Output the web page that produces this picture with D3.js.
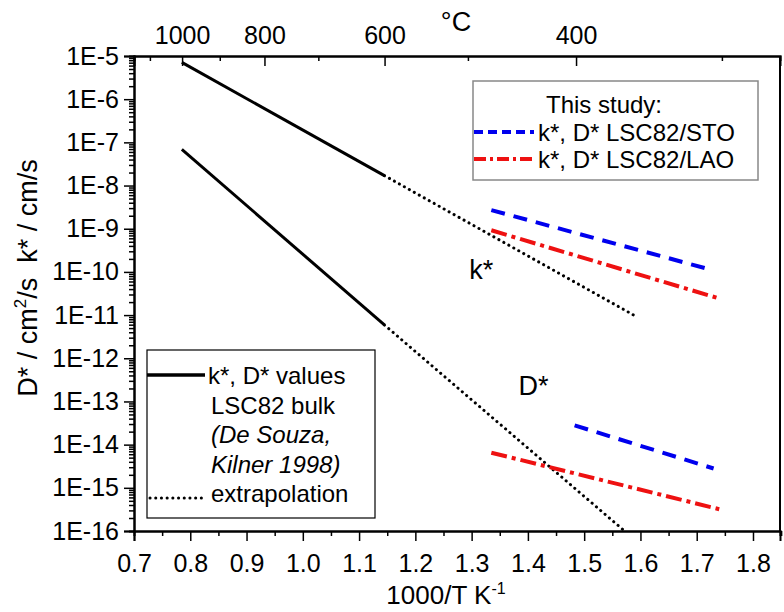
<!DOCTYPE html>
<html>
<head>
<meta charset="utf-8">
<script src="https://cdn.jsdelivr.net/npm/d3@7"></script>
<style>
	body { margin: 0; background: #fff; }
	svg { font-family: "Liberation Sans", Arial, sans-serif; }
</style>
</head>
<body>
<svg width="784" height="612"></svg>
<script>
// bulk values (De Souza, Kilner 1998) and their extrapolation
let kBulkX = [0.785, 1.145];
let kBulkY = [7.1e-6, 1.7e-8];
let kExtrapX = [1.145, 1.593];
let kExtrapY = [1.7e-8, 9.2e-12];
let dBulkX = [0.785, 1.145];
let dBulkY = [6.9e-8, 5.9e-12];
let dExtrapX = [1.145, 1.568];
let dExtrapY = [5.9e-12, 1.1e-16];

// this study
let stoKX = [1.335, 1.728];
let stoKY = [2.7e-9, 1.1e-10];
let laoKX = [1.335, 1.741];
let laoKY = [9.2e-10, 2.4e-11];
let stoDX = [1.483, 1.73];
let stoDY = [2.8e-14, 2.8e-15];
let laoDX = [1.335, 1.74];
let laoDY = [6.5e-15, 3.2e-16];

// ticks
let xTicks = [0.7, 0.8, 0.9, 1.0, 1.1, 1.2, 1.3, 1.4, 1.5, 1.6, 1.7, 1.8];
let xMinor = [0.75, 0.85, 0.95, 1.05, 1.15, 1.25, 1.35, 1.45, 1.55, 1.65, 1.75, 1.85];
let yTicks = [1e-5, 1e-6, 1e-7, 1e-8, 1e-9, 1e-10, 1e-11, 1e-12, 1e-13, 1e-14, 1e-15, 1e-16];
let celsiusTicks = [1000, 800, 600, 400];
let celsiusMinor = [1100, 900, 700, 500, 300];

function pts(xs, ys) {
	return xs.map((v, i) => ({ x: v, y: ys[i] }));
}

let svg = d3.select('svg');
let margin = { top: 56, right: 4, bottom: 81, left: 134 };
let width = +svg.attr('width') - margin.left - margin.right;
let height = +svg.attr('height') - margin.top - margin.bottom;

let chart = svg
	.append('g')
	.attr('transform', 'translate(' + margin.left + ', ' + margin.top + ')');

let x = d3
	.scaleLinear()
	.domain([0.7, 1.848])
	.range([0, width]);

let y = d3
	.scaleLog()
	.domain([1e-16, 1e-5])
	.range([height, 0]);

let toInv = c => 1000 / (c + 273.15);

let yMinor = [];
yTicks.forEach(t => {
	for (let m = 2; m <= 9; m++) {
		if (t * m < 1e-5) yMinor.push(t * m);
	}
});

// axes
chart.append('g')
	.attr('class', 'axis')
	.attr('transform', 'translate(0, ' + height + ')')
	.call(d3.axisBottom(x).tickValues(xMinor).tickSize(5).tickFormat(''));

chart.append('g')
	.attr('class', 'axis')
	.attr('transform', 'translate(0, ' + height + ')')
	.call(d3.axisBottom(x).tickValues(xTicks).tickSize(10).tickPadding(13).tickFormat(d3.format('.1f')));

chart.append('g')
	.attr('class', 'axis')
	.call(d3.axisLeft(y).tickValues(yMinor).tickSize(5).tickFormat(''));

chart.append('g')
	.attr('class', 'axis')
	.call(d3.axisLeft(y).tickValues(yTicks).tickSize(10).tickPadding(5)
		.tickFormat(d => '1E' + Math.round(Math.log10(d))));

chart.append('g')
	.attr('class', 'axis')
	.call(d3.axisTop(x).tickValues(celsiusMinor.map(toInv)).tickSize(-5).tickFormat(''));

chart.append('g')
	.attr('class', 'axis')
	.call(d3.axisTop(x).tickValues(celsiusTicks.map(toInv)).tickSize(-10).tickPadding(12)
		.tickFormat(v => Math.round(1000 / v - 273.15)));

chart.append('line')
	.attr('x1', width).attr('x2', width)
	.attr('y1', 0).attr('y2', height)
	.attr('stroke', '#000')
	.attr('stroke-width', 2);

chart.selectAll('.axis path')
	.attr('stroke', '#000')
	.attr('stroke-width', 2);
chart.selectAll('.axis line')
	.attr('stroke', '#000')
	.attr('stroke-width', 1.5);
chart.selectAll('.axis text')
	.attr('fill', '#000')
	.style('font-size', '25px');

// lines
let line = d3.line()
	.x(d => x(d.x))
	.y(d => y(d.y));

let plot = chart.append('g');

function draw(data, color, dash, cap) {
	plot.append('path')
		.datum(data)
		.attr('fill', 'none')
		.attr('stroke', color)
		.attr('stroke-width', dash == 'dot' ? 3 : (color == '#000' ? 3 : 4))
		.attr('stroke-linecap', cap || 'butt')
		.attr('stroke-dasharray', dash == 'dot' ? '0.1 5.6' : dash)
		.attr('d', line);
}

draw(pts(kBulkX, kBulkY), '#000', null);
draw(pts(dBulkX, dBulkY), '#000', null);
draw(pts(kExtrapX, kExtrapY), '#000', 'dot', 'round');
draw(pts(dExtrapX, dExtrapY), '#000', 'dot', 'round');
draw(pts(stoKX, stoKY), '#0000ee', '14 9');
draw(pts(stoDX, stoDY), '#0000ee', '14 9');
draw(pts(laoKX, laoKY), '#ee1111', '16 5 4 5');
draw(pts(laoDX, laoDY), '#ee1111', '16 5 4 5');

chart.append('text')
	.attr('x', x(1.317))
	.attr('y', y(6.9e-11))
	.attr('text-anchor', 'middle')
	.style('font-size', '27px')
	.text('k*');

chart.append('text')
	.attr('x', x(1.41))
	.attr('y', y(1.4e-13))
	.attr('text-anchor', 'middle')
	.style('font-size', '27px')
	.text('D*');

// legend: this study
let leg1 = svg.append('g');
leg1.append('rect')
	.attr('x', 473).attr('y', 81)
	.attr('width', 285).attr('height', 99)
	.attr('fill', '#fff')
	.attr('stroke', '#888')
	.attr('stroke-width', 1.5);
leg1.append('text')
	.attr('x', 546).attr('y', 113)
	.style('font-size', '24px')
	.text('This study:');
let leg1Rows = [
	{ label: 'k*, D* LSC82/STO', color: '#0000ee', dash: '9 5' },
	{ label: 'k*, D* LSC82/LAO', color: '#ee1111', dash: '12 4 3 4' }
];
leg1Rows.forEach((r, i) => {
	let cy = 132 + i * 27;
	leg1.append('line')
		.attr('x1', 474).attr('x2', 534)
		.attr('y1', cy).attr('y2', cy)
		.attr('stroke', r.color)
		.attr('stroke-width', 4)
		.attr('stroke-dasharray', r.dash);
	leg1.append('text')
		.attr('x', 538).attr('y', cy + 9)
		.style('font-size', '24px')
		.text(r.label);
});

// legend: bulk
let leg2 = svg.append('g');
leg2.append('rect')
	.attr('x', 147).attr('y', 350)
	.attr('width', 228).attr('height', 168)
	.attr('fill', '#fff')
	.attr('stroke', '#000')
	.attr('stroke-width', 1.2);
leg2.append('line')
	.attr('x1', 147).attr('x2', 205)
	.attr('y1', 375).attr('y2', 375)
	.attr('stroke', '#000')
	.attr('stroke-width', 3.5);
leg2.append('line')
	.attr('x1', 150).attr('x2', 205)
	.attr('y1', 498).attr('y2', 498)
	.attr('stroke', '#000')
	.attr('stroke-width', 3)
	.attr('stroke-linecap', 'round')
	.attr('stroke-dasharray', '0.1 5.6');
let leg2Rows = [
	{ t: 'k*, D* values', it: false, x: 208 },
	{ t: 'LSC82 bulk', it: false, x: 211 },
	{ t: '(De Souza,', it: true, x: 211 },
	{ t: 'Kilner 1998)', it: true, x: 211 },
	{ t: 'extrapolation', it: false, x: 211 }
];
leg2Rows.forEach((r, i) => {
	leg2.append('text')
		.attr('x', r.x).attr('y', 384 + i * 29.5)
		.style('font-size', '24px')
		.style('font-style', r.it ? 'italic' : 'normal')
		.text(r.t);
});

// axis titles
let xt = svg.append('text')
	.attr('x', 446).attr('y', 604)
	.attr('text-anchor', 'middle')
	.style('font-size', '26px');
xt.append('tspan').text('1000/T K');
xt.append('tspan').attr('dy', -10).style('font-size', '16px').text('-1');

svg.append('text')
	.attr('x', 456).attr('y', 31)
	.attr('text-anchor', 'middle')
	.style('font-size', '27px')
	.text('°C');

let yt = svg.append('text')
	.attr('transform', 'translate(37, 278) rotate(-90)')
	.attr('text-anchor', 'middle')
	.style('font-size', '27px');
yt.append('tspan').text('D* / cm');
yt.append('tspan').attr('dy', -11).style('font-size', '17px').text('2');
yt.append('tspan').attr('dy', 11).text('/s  k* / cm/s');
yt.attr('xml:space', 'preserve');
</script>
</body>
</html>
